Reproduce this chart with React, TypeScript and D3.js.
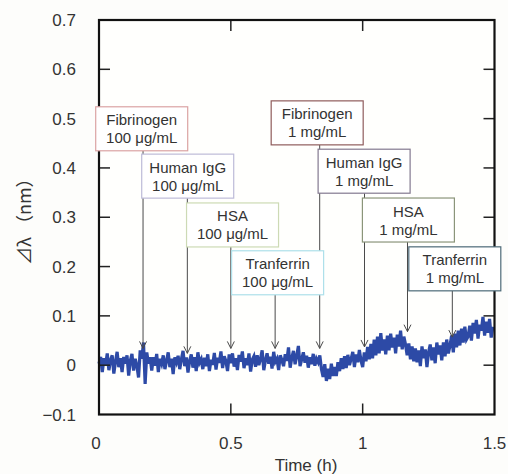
import React from "react";
import * as d3 from "d3";

// ---- Data ----
const SAMPLE_STEP_H = 0.00625; // sampling interval (h)
const shiftValues: number[] = [
  // 0.0 - 0.1
  0.003, 0.017, -0.014, 0.014, 0.000, 0.024, -0.010, 0.010, 0.020, -0.017, 0.007, 0.027, -0.004, 0.014, -0.014, 0.017,
  // 0.1 - 0.2
  0.003, 0.020, -0.021, 0.009, 0.023, -0.011, 0.013, -0.001, -0.025, 0.030, 0.013, 0.046, -0.038, 0.026, 0.003, 0.016,
  // 0.2 - 0.3
  -0.011, 0.016, -0.001, 0.023, -0.014, 0.013, 0.003, 0.020, -0.008, 0.009, 0.026, -0.004, 0.013, -0.018, 0.016, 0.006,
  // 0.3 - 0.4
  0.019, -0.008, 0.012, 0.029, -0.002, 0.016, -0.015, 0.009, 0.022, -0.005, 0.016, -0.012, 0.026, 0.005, 0.012, -0.008,
  // 0.4 - 0.5
  0.015, -0.002, 0.022, -0.012, 0.011, 0.001, 0.025, -0.009, 0.015, 0.005, 0.028, -0.006, 0.018, 0.008, -0.012, 0.022,
  // 0.5 - 0.6
  0.004, 0.024, -0.003, 0.014, -0.010, 0.021, 0.007, 0.028, -0.006, 0.014, 0.000, 0.024, -0.013, 0.011, 0.018, -0.003,
  // 0.6 - 0.7
  0.020, 0.000, 0.013, 0.030, -0.010, 0.010, 0.024, 0.003, 0.017, -0.007, 0.027, 0.007, 0.013, -0.010, 0.020, 0.010,
  // 0.7 - 0.8
  -0.002, 0.022, 0.009, 0.036, -0.005, 0.015, 0.029, 0.002, 0.019, 0.039, -0.002, 0.012, 0.026, 0.005, 0.019, -0.005,
  // 0.8 - 0.9
  0.016, 0.002, 0.023, -0.001, 0.013, 0.006, 0.020, -0.008, -0.024, 0.002, -0.032, -0.007, -0.028, 0.003, -0.022, -0.004,
  // 0.9 - 1.0
  -0.022, 0.006, -0.012, 0.014, -0.008, 0.018, -0.006, 0.021, 0.000, 0.013, 0.027, -0.004, 0.022, 0.006, 0.031, 0.009,
  // 1.0 - 1.1
  -0.004, 0.026, 0.008, 0.037, 0.012, 0.043, 0.014, 0.052, 0.020, 0.058, 0.024, 0.065, 0.030, 0.052, 0.022, 0.060,
  // 1.1 - 1.2
  0.030, 0.064, 0.036, 0.056, 0.024, 0.062, 0.038, 0.070, 0.032, 0.058, 0.042, 0.020, 0.044, 0.012, 0.038, 0.008,
  // 1.2 - 1.3
  0.034, 0.006, 0.030, -0.002, 0.038, 0.014, 0.032, -0.004, 0.026, 0.042, 0.010, 0.036, 0.004, 0.046, 0.022, 0.040,
  // 1.3 - 1.4
  0.010, 0.046, 0.018, 0.052, 0.024, 0.040, 0.060, 0.026, 0.064, 0.036, 0.070, 0.040, 0.074, 0.046, 0.078, 0.052,
  // 1.4 - 1.5
  0.058, 0.080, 0.050, 0.086, 0.064, 0.092, 0.054, 0.082, 0.070, 0.098, 0.060, 0.088, 0.066, 0.094, 0.056, 0.078,
];

const yTicks = [-0.1, 0, 0.1, 0.2, 0.3, 0.4, 0.5, 0.6, 0.7];
const yTickLabels = ["−0.1", "0", "0.1", "0.2", "0.3", "0.4", "0.5", "0.6", "0.7"];
const xTicks = [0, 0.5, 1, 1.5];
const xTickLabels = ["0", "0.5", "1", "1.5"];

const annProtein = ["Fibrinogen", "Human IgG", "HSA", "Tranferrin", "Fibrinogen", "Human IgG", "HSA", "Tranferrin"];
const annConc = ["100 μg/mL", "100 μg/mL", "100 μg/mL", "100 μg/mL", "1 mg/mL", "1 mg/mL", "1 mg/mL", "1 mg/mL"];
const annArrowTime = [0.167, 0.335, 0.5, 0.668, 0.837, 1.007, 1.17, 1.34];
const annArrowTip = [0.034, 0.024, 0.034, 0.034, 0.034, 0.037, 0.068, 0.057];
const annBoxLeftTime = [-0.0125, 0.162, 0.332, 0.503, 0.653, 0.831, 0.999, 1.175];
const annBoxTopValue = [0.524, 0.428, 0.329, 0.232, 0.536, 0.438, 0.339, 0.240];
const annBorderColors = ["#dba3a3", "#bdbbd8", "#cddab5", "#ade0ea", "#8f5c5c", "#83798f", "#8b957a", "#4d6a78"];

// ---- Layout ----
const W = 508;
const H = 474;
const M = { left: 99, right: 13.5, top: 20, bottom: 59.5 };
const BOX_W = 92;
const BOX_H = 44;

export default function App() {
  const x = d3.scaleLinear().domain([0, 1.5]).range([M.left, W - M.right]);
  const y = d3.scaleLinear().domain([-0.1, 0.7]).range([H - M.bottom, M.top]);
  const times = shiftValues.map((_, i) => i * SAMPLE_STEP_H);
  const line = d3
    .line<number>()
    .x((_, i) => x(times[i]))
    .y((d) => y(d));

  const x0 = x(0), x1 = x(1.5), y0 = y(-0.1), y1 = y(0.7);
  const TL = 11;
  const font = "Liberation Sans, Arial, sans-serif";

  return (
    <svg
      width={W}
      height={H}
      viewBox={`0 0 ${W} ${H}`}
      style={{ position: "absolute", left: 0, top: 0, background: "#fdfdfb" }}
    >
      <rect x={x0} y={y1} width={x1 - x0} height={y0 - y1} fill="#fffffd" />

      {/* data */}
      <path d={line(shiftValues) || ""} fill="none" stroke="#2d4aa6" strokeWidth={3.2} strokeLinejoin="miter" />

      {/* ticks */}
      {yTicks.slice(1, -1).map((t) => (
        <g key={"yt" + t}>
          <line x1={x0} x2={x0 + TL} y1={y(t)} y2={y(t)} stroke="#222" strokeWidth={1.5} />
          <line x1={x1} x2={x1 - TL} y1={y(t)} y2={y(t)} stroke="#222" strokeWidth={1.5} />
        </g>
      ))}
      {xTicks.slice(1, -1).map((t) => (
        <g key={"xt" + t}>
          <line x1={x(t)} x2={x(t)} y1={y1} y2={y1 + TL} stroke="#222" strokeWidth={1.5} />
          <line x1={x(t)} x2={x(t)} y1={y0} y2={y0 - TL} stroke="#222" strokeWidth={1.5} />
        </g>
      ))}

      {/* frame */}
      <rect x={x0} y={y1} width={x1 - x0} height={y0 - y1} fill="none" stroke="#111" strokeWidth={2.2} />

      {/* tick labels */}
      {yTicks.map((t, i) => (
        <text key={"yl" + t} x={76} y={y(t) + 6} textAnchor="end" fontFamily={font} fontSize={17} fill="#333">
          {yTickLabels[i]}
        </text>
      ))}
      {xTicks.map((t, i) => (
        <text key={"xl" + t} x={x(t) - (i === 0 ? 3 : 0)} y={449} textAnchor="middle" fontFamily={font} fontSize={17} fill="#333">
          {xTickLabels[i]}
        </text>
      ))}

      {/* axis titles */}
      <text x={306} y={471} textAnchor="middle" fontFamily={font} fontSize={17} fill="#333">
        Time (h)
      </text>
      <text
        transform={`translate(31, ${(y0 + y1) / 2}) rotate(-90)`}
        textAnchor="middle"
        fontFamily="Noto Sans CJK JP, sans-serif"
        fontSize={18}
        fill="#333"
      >
        ⊿λ （nm）
      </text>

      {/* annotation arrows */}
      {annArrowTime.map((t, i) => {
        const ax = x(t);
        const top = y(annBoxTopValue[i]) + BOX_H;
        const tip = y(annArrowTip[i]);
        return (
          <g key={"ar" + i} stroke="#4a4a4a" strokeWidth={1} fill="none">
            <line x1={ax} x2={ax} y1={top} y2={tip} />
            <polyline points={`${ax - 3.5},${tip - 7} ${ax},${tip} ${ax + 3.5},${tip - 7}`} />
          </g>
        );
      })}

      {/* annotation boxes */}
      {annProtein.map((p, i) => {
        const bx = x(annBoxLeftTime[i]);
        const by = y(annBoxTopValue[i]);
        return (
          <g key={"bx" + i}>
            <rect x={bx} y={by} width={BOX_W} height={BOX_H} fill="#ffffff" stroke={annBorderColors[i]} strokeWidth={1.2} />
            <text x={bx + BOX_W / 2} y={by + 18.5} textAnchor="middle" fontFamily={font} fontSize={15} fill="#333">
              {p}
            </text>
            <text x={bx + BOX_W / 2} y={by + 36.5} textAnchor="middle" fontFamily={font} fontSize={15} fill="#333">
              {annConc[i]}
            </text>
          </g>
        );
      })}
    </svg>
  );
}
